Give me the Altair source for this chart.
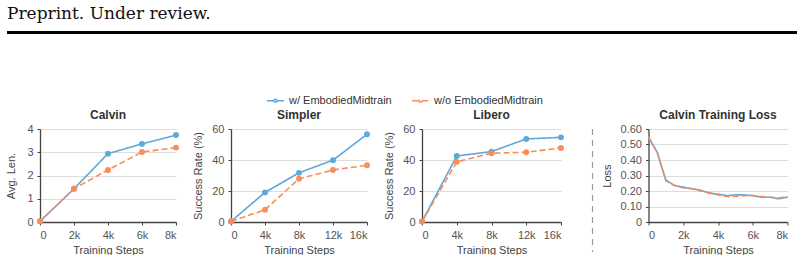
import altair as alt
import pandas as pd

# ---- data -------------------------------------------------------------
SERIES = ["w/ EmbodiedMidtrain", "w/o EmbodiedMidtrain"]
COLORS = ["#5fa8d9", "#f98d58"]

calvin_steps = [0, 2000, 4000, 6000, 8000]
calvin_with = [0.03, 1.43, 2.94, 3.36, 3.74]
calvin_without = [0.03, 1.43, 2.24, 3.01, 3.20]

bench_steps = [0, 4000, 8000, 12000, 16000]
simpler_with = [0.4, 19.1, 31.7, 39.9, 56.6]
simpler_without = [0.4, 7.9, 27.9, 33.6, 36.6]
libero_with = [0.3, 42.6, 45.4, 53.6, 54.6]
libero_without = [0.3, 38.8, 44.4, 45.0, 47.8]

loss_steps = [0, 500, 1000, 1500, 2000, 2500, 3000, 3500, 4000,
              4500, 5000, 5500, 6000, 6500, 7000, 7500, 8000]
loss_with = [0.545, 0.45, 0.27, 0.235, 0.225, 0.215, 0.205, 0.185, 0.18,
             0.17, 0.175, 0.175, 0.17, 0.16, 0.16, 0.15, 0.16]
loss_without = [0.55, 0.45, 0.265, 0.235, 0.22, 0.215, 0.2, 0.19, 0.175,
                0.165, 0.165, 0.17, 0.17, 0.165, 0.16, 0.155, 0.165]

calvin_xticks = [0, 2000, 4000, 6000, 8000]
bench_xticks = [0, 4000, 8000, 12000, 16000]
calvin_yticks = [0, 1, 2, 3, 4]
rate_yticks = [0, 20, 40, 60]
loss_yticks = [0, 0.1, 0.2, 0.3, 0.4, 0.5, 0.6]


def frame(steps, with_vals, without_vals):
    return pd.DataFrame({
        "step": list(steps) * 2,
        "value": list(with_vals) + list(without_vals),
        "series": [SERIES[0]] * len(steps) + [SERIES[1]] * len(steps),
    })


STEP_LABEL = "datum.value == 0 ? '0' : (datum.value / 1000) + 'k'"
# legend glyph: short line with a small ring in the middle
LINE_DOT = "M-1,0H-0.2M0.2,0H1M0.18,0A0.18,0.18,0,1,1,-0.18,0A0.18,0.18,0,1,1,0.18,0Z"

color_enc = alt.Color(
    "series:N",
    scale=alt.Scale(domain=SERIES, range=COLORS),
    legend=alt.Legend(
        title=None, orient="none", direction="horizontal",
        legendX=226, legendY=91, labelFontSize=11, labelColor="#333",
        symbolType=LINE_DOT, symbolSize=289, symbolStrokeWidth=1.6,
        columnPadding=16, labelOffset=4,
    ),
)
dash_enc = alt.StrokeDash(
    "series:N",
    scale=alt.Scale(domain=SERIES, range=[[1, 0], [6, 3]]),
    legend=None,
)


def panel(df, ytitle, xticks, yticks, width, points=True, yfmt=None,
          title_pad=8):
    x = alt.X(
        "step:Q",
        title="Training Steps",
        scale=alt.Scale(domain=[xticks[0], xticks[-1]], nice=False),
        axis=alt.Axis(values=xticks, labelExpr=STEP_LABEL, grid=False),
    )
    yaxis = dict(values=yticks, title=ytitle, titlePadding=title_pad)
    if yfmt:
        yaxis["labelExpr"] = yfmt
    y = alt.Y(
        "value:Q",
        scale=alt.Scale(domain=[yticks[0], yticks[-1]], nice=False),
        axis=alt.Axis(**yaxis),
    )
    base = alt.Chart(df).encode(x=x, y=y, color=color_enc)
    lines = base.mark_line(strokeWidth=1.6).encode(strokeDash=dash_enc)
    layers = [lines]
    if points:
        layers.append(base.mark_point(filled=False, size=11, strokeWidth=2.6,
                                      opacity=1))
    return alt.layer(*layers).properties(width=width, height=93)


p_calvin = panel(frame(calvin_steps, calvin_with, calvin_without),
                 "Avg. Len.", calvin_xticks, calvin_yticks, 136, title_pad=10
                 ).properties(title="Calvin")
p_simpler = panel(frame(bench_steps, simpler_with, simpler_without),
                  "Success Rate (%)", bench_xticks, rate_yticks, 136
                  ).properties(title="Simpler")
p_libero = panel(frame(bench_steps, libero_with, libero_without),
                 "Success Rate (%)", bench_xticks, rate_yticks, 139
                 ).properties(title="Libero")
p_loss_line = panel(frame(loss_steps, loss_with, loss_without),
                    "Loss", calvin_xticks, loss_yticks, 139,
                    points=False,
                    yfmt="datum.value == 0 ? '0' : format(datum.value, '.2f')")

# dashed separator to the left of the loss panel
separator = alt.Chart(pd.DataFrame({"k": [0]})).mark_rule(
    color="#999", strokeWidth=1.2, strokeDash=[6, 5]
).encode(x=alt.value(-56), y=alt.value(0), y2=alt.value(123))

p_loss = alt.layer(p_loss_line, separator).properties(
    width=139, height=93, title="Calvin Training Loss")

row = alt.hconcat(
    alt.hconcat(p_calvin, p_simpler, spacing=9),
    alt.hconcat(p_libero, p_loss, spacing=23.5),
    spacing=9,
)

# page header (its origin lines up with the first plot's left edge)
header_text = alt.Chart(pd.DataFrame({"t": ["Preprint. Under review."]})).mark_text(
    align="left", baseline="alphabetic", font="DejaVu Serif",
    fontSize=17, color="#111"
).encode(x=alt.value(-33), y=alt.value(19), text="t:N")
header_rule = alt.Chart(pd.DataFrame({"k": [0]})).mark_rule(
    color="black", strokeWidth=3
).encode(x=alt.value(-33), x2=alt.value(757), y=alt.value(32.5))
header = alt.layer(header_text, header_rule).properties(width=757, height=40)

chart = alt.vconcat(header, row, spacing=69).properties(
    padding={"left": 5, "top": 0, "right": 0, "bottom": 0}
).configure(
    font="Liberation Sans",
).configure_view(
    stroke=None
).configure_title(
    fontSize=12, fontWeight="bold", color="#333", offset=1
).configure_axis(
    labelFontSize=11, labelColor="#555", titleFontSize=11,
    titleFontWeight="normal", titleColor="#444",
    domainColor="#444", domainWidth=1.3, tickColor="#444", tickSize=3,
    gridColor="#ddd",
).configure_axisX(
    labelPadding=4, titlePadding=4,
).configure_axisY(
    labelPadding=4,
)

chart.save("out.html", embed_options={"renderer": "svg", "actions": False})
